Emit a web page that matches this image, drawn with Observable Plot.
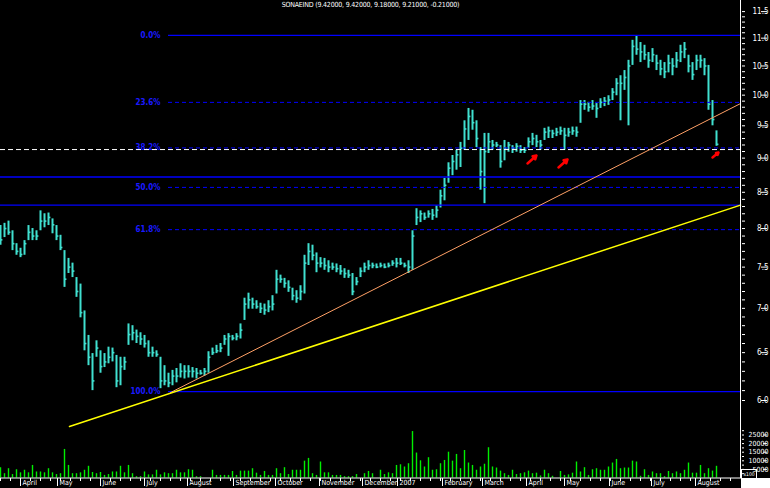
<!DOCTYPE html>
<html><head><meta charset="utf-8">
<script src="https://cdn.jsdelivr.net/npm/d3@7"></script>
<script src="https://cdn.jsdelivr.net/npm/@observablehq/plot@0.6"></script>
<style>
html,body{margin:0;padding:0;background:#000;}
#wrap{position:relative;width:770px;height:488px;background:#000;overflow:hidden;font-family:"DejaVu Sans Condensed","DejaVu Sans",sans-serif;}
#wrap svg{position:absolute;left:0;top:0;}
#title{position:absolute;top:1px;left:0;width:741px;text-align:center;color:#fff;font-size:7px;letter-spacing:-0.2px;white-space:nowrap;z-index:3;}
#corner{position:absolute;left:741px;top:478px;width:29px;height:10px;background:#fff;z-index:3;}
#x100{position:absolute;left:741px;top:469px;width:14px;height:8px;border:1px solid #fff;color:#fff;font-size:5px;line-height:8px;text-align:center;z-index:3;}
</style></head>
<body><div id="wrap"><div id="title">SONAEIND (9.42000, 9.42000, 9.18000, 9.21000, -0.21000)</div><div id="x100">x100</div><div id="corner"></div></div>
<script>
// ---- data ----
const high = [8.04,8.07,8.10,7.97,7.80,7.74,7.84,8.04,8.00,7.97,
8.24,8.20,8.21,8.13,8.04,7.91,7.71,7.61,7.55,7.37,
7.29,6.97,6.69,6.49,6.63,6.52,6.49,6.56,6.55,6.47,
6.45,6.45,6.82,6.80,6.75,6.72,6.69,6.63,6.56,6.52,
6.45,6.36,6.28,6.31,6.33,6.38,6.36,6.36,6.34,6.33,
6.31,6.33,6.51,6.55,6.58,6.60,6.69,6.71,6.69,6.71,
6.82,7.12,7.18,7.12,7.09,7.06,7.05,7.09,7.15,7.46,
7.40,7.36,7.33,7.24,7.21,7.27,7.65,7.80,7.78,7.68,
7.62,7.61,7.58,7.55,7.54,7.52,7.48,7.46,7.42,7.37,
7.49,7.55,7.58,7.55,7.54,7.55,7.54,7.55,7.58,7.61,
7.61,7.55,7.58,7.97,8.27,8.24,8.21,8.24,8.26,8.31,
8.53,8.70,8.93,9.04,9.12,9.24,9.58,9.78,9.75,9.58,
9.16,9.38,9.38,9.27,9.24,9.19,9.27,9.24,9.19,9.22,
9.19,9.16,9.31,9.38,9.35,9.27,9.46,9.48,9.43,9.46,
9.48,9.46,9.46,9.48,9.48,9.91,9.91,9.88,9.91,9.86,
9.94,9.96,9.99,10.11,10.28,10.33,10.42,10.60,10.96,11.05,
10.92,10.87,10.74,10.81,10.69,10.60,10.56,10.69,10.63,10.74,
10.87,10.92,10.69,10.56,10.69,10.69,10.63,10.51,9.91,9.42];
const low = [7.78,7.88,7.91,7.71,7.65,7.62,7.65,7.84,7.84,7.84,
7.97,8.01,8.04,7.93,7.84,7.71,7.25,7.42,7.37,7.13,
6.89,6.52,6.36,6.10,6.45,6.28,6.34,6.38,6.40,6.13,
6.15,6.31,6.58,6.63,6.60,6.58,6.55,6.45,6.45,6.45,
6.12,6.15,6.13,6.15,6.18,6.23,6.22,6.23,6.23,6.22,
6.26,6.25,6.28,6.47,6.49,6.50,6.58,6.46,6.63,6.63,
6.65,6.86,6.99,6.99,6.99,6.94,6.92,6.95,6.97,7.17,
7.30,7.24,7.19,7.09,7.06,7.09,7.17,7.52,7.58,7.43,
7.49,7.46,7.43,7.46,7.43,7.40,7.36,7.36,7.15,7.27,
7.37,7.43,7.46,7.48,7.48,7.49,7.48,7.49,7.51,7.49,
7.52,7.49,7.42,7.46,8.04,8.08,8.11,8.14,8.11,8.14,
8.28,8.38,8.63,8.74,8.82,8.86,9.12,9.27,9.43,9.16,
8.53,8.34,9.07,9.12,9.16,8.85,8.96,9.09,9.07,9.09,
9.07,9.07,9.15,9.19,9.16,9.12,9.27,9.30,9.30,9.33,
9.35,9.12,9.32,9.35,9.32,9.54,9.75,9.72,9.75,9.62,
9.78,9.81,9.83,9.91,9.99,9.58,10.08,9.50,10.51,10.69,
10.56,10.60,10.46,10.56,10.42,10.33,10.28,10.38,10.33,10.46,
10.56,10.63,10.38,10.25,10.42,10.46,10.33,9.75,9.50,9.18];
const close = [7.85,8.00,7.95,7.80,7.70,7.66,7.80,7.95,7.90,7.90,
8.10,8.10,8.15,8.05,7.90,7.75,7.35,7.50,7.45,7.20,
6.95,6.60,6.45,6.20,6.55,6.35,6.40,6.45,6.50,6.20,
6.35,6.40,6.70,6.72,6.68,6.65,6.60,6.50,6.50,6.48,
6.20,6.20,6.18,6.25,6.25,6.30,6.30,6.30,6.30,6.28,
6.28,6.30,6.45,6.50,6.52,6.55,6.65,6.68,6.66,6.68,
6.75,7.05,7.10,7.05,7.02,7.00,6.98,7.02,7.05,7.35,
7.35,7.30,7.25,7.15,7.12,7.20,7.55,7.70,7.65,7.55,
7.55,7.52,7.50,7.50,7.48,7.45,7.42,7.40,7.20,7.32,
7.45,7.50,7.52,7.52,7.50,7.52,7.50,7.52,7.55,7.55,
7.55,7.52,7.50,7.90,8.15,8.20,8.15,8.20,8.18,8.25,
8.45,8.60,8.85,8.95,9.05,9.15,9.45,9.65,9.55,9.30,
8.80,9.10,9.25,9.20,9.20,8.95,9.15,9.20,9.15,9.18,
9.12,9.12,9.25,9.30,9.25,9.20,9.40,9.42,9.38,9.40,
9.42,9.35,9.40,9.42,9.40,9.85,9.85,9.80,9.82,9.78,
9.88,9.90,9.92,10.05,10.20,10.20,10.30,10.50,10.85,10.80,
10.75,10.70,10.60,10.70,10.55,10.45,10.40,10.55,10.50,10.60,
10.75,10.80,10.50,10.35,10.60,10.60,10.50,9.85,9.60,9.21];
const volume = [6000,2500,5400,2000,4800,3000,4500,3000,7300,3500,
3500,3000,5400,3000,2000,2500,16600,7300,2500,2500,
3000,4500,6800,3200,2500,3200,1500,2000,3500,3500,
6800,3000,7300,2500,800,800,3500,1800,1800,4500,
1800,3000,2500,2500,4500,3000,3000,4800,4500,800,
800,0,0,4500,1500,1500,1500,1500,3800,1500,
4000,4000,4000,5400,2800,1500,3800,1500,1500,5400,
2500,6000,2000,4500,4500,4500,9800,11400,2500,1500,
9300,3000,3000,1500,1500,1500,800,800,800,2000,
0,2500,3800,2500,0,4500,2000,3000,2500,7300,
7700,6400,8300,27000,14500,10000,6400,11800,4500,4800,
8300,10200,15000,9800,13700,5400,16000,8700,7300,4500,
6400,8000,17600,6400,5800,4000,2500,1500,4500,2000,
2500,3000,4000,2500,2800,1200,4500,2500,1000,0,
3800,1500,1800,2800,9300,3500,6000,1500,4800,5400,
4500,4500,6400,8700,10800,5400,5800,5800,9800,9300,
1000,4800,1500,3500,2500,2500,800,3800,2500,3500,
2500,4500,8700,2800,2800,7300,2500,5400,4000,6800];

const monthLabels = ["April","May","June","July","August","September","October","November","December","2007","February","March","April","May","June","July","August"];
const monthDays = [10,28.5,50,72,93.5,116.5,137.5,159.5,181,198.5,221,241,263,282,304.5,325.5,347.5];

const priceTicks = [6.0,6.5,7.0,7.5,8.0,8.5,9.0,9.5,10.0,10.5,11.0,11.5];
const volumeTicks = [5000,10000,15000,20000,25000];

const fibLabels = ["0.0%","23.6%","38.2%","50.0%","61.8%","100.0%"];
const fibPrices = [11.05,9.88,9.155,8.57,7.985,6.09];
const fibStartDay = 84;
const xMax = 370;

const supportWhite = [9.13];
const supportBlue = [8.72,8.32];

const orangeTrend = [{day:85, price:6.08},{day:370, price:9.86}];
const yellowTrend = [{day:34.5, price:5.745},{day:370, price:8.32}];

const arrowFromDay = [263.5,279,356];
const arrowFromPrice = [8.92,8.86,9.01];
const arrowToDay = [268,283.5,359];
const arrowToPrice = [9.04,8.98,9.085];

// ---- build ----
const bars = high.map((h,i)=>({day:2*i, high:h, low:low[i], close:close[i], volume:volume[i]}));
const fib = fibLabels.map((l,i)=>({label:l, price:fibPrices[i], solid: i===0 || i===fibLabels.length-1}));
const arrows = arrowFromDay.map((d,i)=>({x1:d, y1:arrowFromPrice[i], x2:arrowToDay[i], y2:arrowToPrice[i]}));
const monthLabelOf = new Map(monthDays.map((d,i)=>[d, monthLabels[i]]));

const font = "DejaVu Sans Condensed, DejaVu Sans, sans-serif";
const common = {width:770, height:488, marginTop:0, marginRight:29, marginBottom:10, marginLeft:0,
  style:{background:"transparent", color:"#fff", fontFamily:font, fontSize:"8px", overflow:"visible"}};
const xOpt = {domain:[0,xMax], range:[0,740], axis:null, label:null};

const minorPrice = d3.range(60,116).map(v=>v/10);

const price = Plot.plot({
  ...common,
  x: xOpt,
  y: {type:"log", domain:[6,11.5], range:[400,11.1], axis:null, label:null},
  marks: [
    Plot.ruleX(bars, {x:"day", y1:"low", y2:"high", stroke:"#40e0d0", strokeWidth:2}),
    Plot.ruleY(bars, {y:"close", x1:"day", x2:d=>d.day+1.2, stroke:"#40e0d0", strokeWidth:1.6}),
    Plot.ruleY(fib.filter(d=>d.solid), {y:"price", x1:()=>fibStartDay, x2:()=>xMax, stroke:"#0000ff", strokeWidth:1.3}),
    Plot.ruleY(fib.filter(d=>!d.solid), {y:"price", x1:()=>fibStartDay, x2:()=>xMax, stroke:"#0000ff", strokeWidth:1, strokeDasharray:"4,3"}),
    Plot.text(fib, {y:"price", x:()=>fibStartDay, text:"label", textAnchor:"end", dx:-8, fill:"#1a1aff", fontSize:8, fontWeight:"bold"}),
    Plot.ruleY(supportBlue, {stroke:"#0000ff", strokeWidth:1.3}),
    Plot.ruleY(supportWhite, {stroke:"#ffffff", strokeWidth:1, strokeDasharray:"5,3"}),
    Plot.line(orangeTrend, {x:"day", y:"price", stroke:"#ffa066", strokeWidth:1}),
    Plot.line(yellowTrend, {x:"day", y:"price", stroke:"#ffff00", strokeWidth:1.5}),
    Plot.arrow(arrows, {x1:"x1", y1:"y1", x2:"x2", y2:"y2", stroke:"#ff0000", strokeWidth:2.5, headLength:5}),
    Plot.ruleX([xMax], {stroke:"#ffffff"}),
    Plot.axisY({anchor:"right", label:null, ticks:minorPrice, tickSize:3, tickFormat:()=>"", stroke:"#fff"}),
    Plot.axisY({anchor:"right", label:null, ticks:priceTicks, tickSize:6, tickPadding:2, tickFormat:d3.format(".1f"), textAnchor:"end", dx:19, fill:"#fff", stroke:"#fff", fontSize:8})
  ]
});

const minorVol = d3.range(2500, 30000, 2500);
const vol = Plot.plot({
  ...common,
  x: xOpt,
  y: {domain:[0,25000], range:[477.5,434.5], axis:null, label:null},
  marks: [
    Plot.ruleX(bars, {x:"day", y1:()=>0, y2:"volume", stroke:"#00ee00", strokeWidth:1.4}),
    Plot.ruleY([0], {stroke:"#ffffff"}),
    Plot.axisY({anchor:"right", label:null, ticks:minorVol, tickSize:2, tickFormat:()=>"", stroke:"#fff"}),
    Plot.axisY({anchor:"right", label:null, ticks:volumeTicks, tickSize:4, tickPadding:2, tickFormat:d3.format("d"), textAnchor:"end", dx:21, fill:"#fff", stroke:"#fff", fontSize:7}),
    Plot.axisX({anchor:"bottom", label:null, ticks:d3.range(0,xMax,5), tickSize:3, tickFormat:()=>"", stroke:"#fff"}),
    Plot.axisX({anchor:"bottom", label:null, ticks:monthDays, tickSize:8, tickFormat:()=>"", stroke:"#fff"}),
    Plot.text(monthDays, {x:d=>d, text:d=>monthLabelOf.get(d), frameAnchor:"bottom", textAnchor:"start", dx:2, dy:6, fill:"#fff", fontSize:7})
  ]
});

const wrap = document.getElementById("wrap");
wrap.appendChild(price);
wrap.appendChild(vol);
</script>
</body></html>
